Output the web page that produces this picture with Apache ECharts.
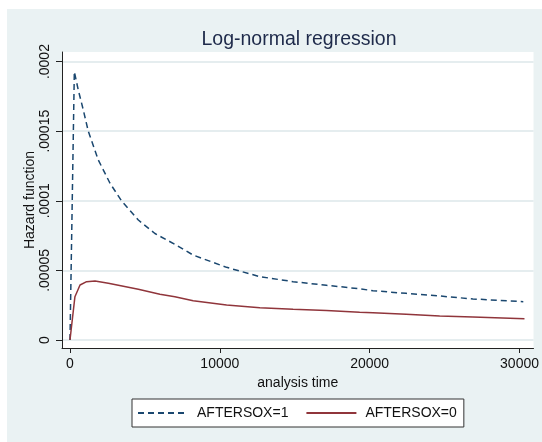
<!DOCTYPE html>
<html>
<head>
<meta charset="utf-8">
<script src="https://cdn.jsdelivr.net/npm/echarts@6/dist/echarts.min.js"></script>
<style>html,body{margin:0;padding:0;background:#fff;}#c{width:542px;height:442px;}</style>
</head>
<body>
<div id="c"></div>
<script>
// ---- data ----
const titleText = 'Log-normal regression';
const xName = 'analysis time';
const yName = 'Hazard function';
const xTicks = [0, 10000, 20000, 30000];
const xTickLabels = ['0', '10000', '20000', '30000'];
const yTicks = [0, 0.00005, 0.0001, 0.00015, 0.0002];
const yTickLabels = ['0', '.00005', '.0001', '.00015', '.0002'];
const seriesNames = ['AFTERSOX=1', 'AFTERSOX=0'];

const timeA = [0, 290, 553, 889, 1220, 1890, 2670, 3440, 4560, 5670, 7000, 8220, 10450, 12670, 14890, 17110, 19330, 20220, 22440, 24670, 26890, 30250];
const hazA = [0, 0.0001927, 0.0001796, 0.0001652, 0.000150, 0.0001293, 0.0001126, 0.0001, 0.0000862, 0.0000765, 0.0000687, 0.000061, 0.0000522, 0.0000455, 0.0000419, 0.0000393, 0.0000368, 0.0000354, 0.0000335, 0.0000316, 0.0000295, 0.0000275];

const timeB = [0, 330, 670, 1110, 1670, 2560, 4560, 6000, 7000, 8220, 10450, 12670, 14890, 17110, 19330, 20220, 22440, 24670, 26890, 30330];
const hazB = [0, 0.0000311, 0.0000395, 0.0000419, 0.0000424, 0.0000407, 0.0000364, 0.0000328, 0.0000311, 0.0000282, 0.0000251, 0.0000232, 0.0000221, 0.0000212, 0.0000200, 0.0000196, 0.0000185, 0.0000172, 0.0000165, 0.0000153];

// ---- chart ----
const FONT = 'Liberation Sans, Arial, sans-serif';
const pairs = (xs, ys) => xs.map((x, i) => [x, ys[i]]);
const chart = echarts.init(document.getElementById('c'), null, {renderer: 'canvas'});
chart.setOption({
  animation: false,
  backgroundColor: '#ffffff',
  graphic: [{
    type: 'rect', z: -10, silent: true,
    shape: {x: 7, y: 9, width: 535, height: 433},
    style: {fill: '#eaf2f3'}
  }],
  title: {
    text: titleText, left: 294, top: 25, textAlign: 'center',
    textStyle: {fontFamily: FONT, fontSize: 19.5, fontWeight: 'normal', color: '#1e2a4a'}
  },
  grid: {left: 62, top: 52, width: 472, height: 296, show: true, backgroundColor: '#ffffff', borderWidth: 0, containLabel: false},
  xAxis: {
    type: 'value', min: -533, max: 30933,
    name: xName, nameLocation: 'middle', nameGap: 28, nameMoveOverlap: false,
    nameTextStyle: {fontFamily: FONT, fontSize: 14, color: '#111'},
    axisLine: {show: true, onZero: false, lineStyle: {color: '#222', width: 1}},
    axisTick: {show: true, length: 5, customValues: xTicks, lineStyle: {color: '#222'}},
    axisLabel: {customValues: xTicks, margin: 9, fontFamily: FONT, fontSize: 14, color: '#111',
      formatter: v => xTickLabels[xTicks.indexOf(v)] ?? ''},
    splitLine: {show: false}
  },
  yAxis: {
    type: 'value', min: -0.00000575, max: 0.0002069,
    name: yName, nameLocation: 'middle', nameGap: 25, nameRotate: 90, nameMoveOverlap: false,
    nameTextStyle: {fontFamily: FONT, fontSize: 14, color: '#111'},
    axisLine: {show: true, onZero: false, lineStyle: {color: '#222', width: 1}},
    axisTick: {show: true, length: 6, customValues: yTicks, lineStyle: {color: '#222'}},
    axisLabel: {customValues: yTicks, rotate: 90, margin: 10, fontFamily: FONT, fontSize: 14, color: '#111',
      formatter: v => { let i = yTicks.findIndex(t => Math.abs(t - v) < 1e-12); return i >= 0 ? yTickLabels[i] : ''; }},
    splitLine: {show: true, lineStyle: {color: '#dce7ea', width: 1.5}}
  },
  legend: {
    left: 132, top: 399, orient: 'horizontal',
    backgroundColor: '#ffffff', borderColor: '#333', borderWidth: 1,
    padding: [7, 7, 7, 5], itemWidth: 50, itemHeight: 14, itemGap: 17,
    itemStyle: {opacity: 0},
    textStyle: {fontFamily: FONT, fontSize: 14, color: '#111', padding: [0, 0, 0, 4]},
    data: seriesNames
  },
  series: [
    {
      type: 'line', name: seriesNames[0], data: pairs(timeA, hazA), showSymbol: false, symbol: 'none', z: 3,
      lineStyle: {color: '#1a476f', width: 1.5, type: [6, 4]}, itemStyle: {color: '#1a476f'}
    },
    {
      type: 'line', name: seriesNames[1], data: pairs(timeB, hazB), showSymbol: false, symbol: 'none', z: 3,
      lineStyle: {color: '#90353b', width: 1.5, type: 'solid'}, itemStyle: {color: '#90353b'}
    }
  ]
});
</script>
</body>
</html>
